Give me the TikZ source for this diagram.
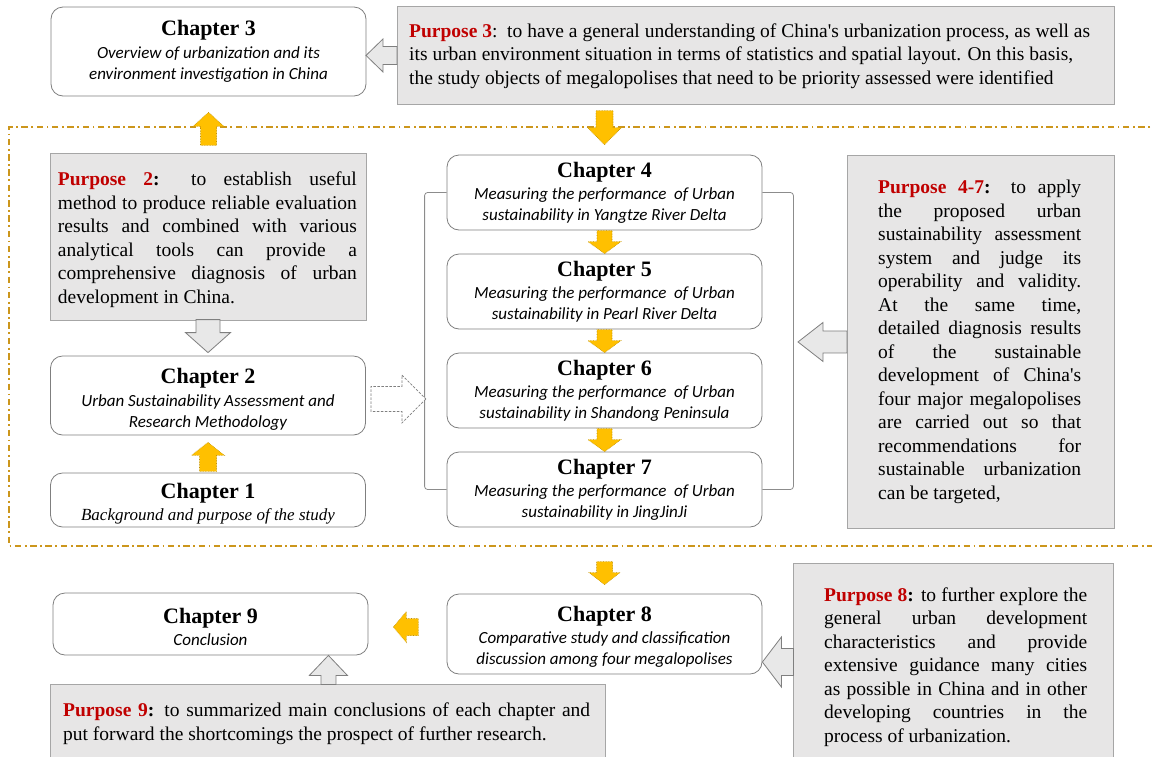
\documentclass[tikz,border=0pt]{standalone}
\usepackage{fontspec}
\setmainfont{Liberation Serif}
\newfontfamily\calibrifont{Carlito}
\usetikzlibrary{calc}

\definecolor{pfill}{HTML}{E7E6E6}
\definecolor{pline}{HTML}{A6A6A6}
\definecolor{cline}{HTML}{7F7F7F}
\definecolor{yfill}{HTML}{FFC000}
\definecolor{yline}{HTML}{BF9000}
\definecolor{pred}{HTML}{C00000}
\definecolor{frameline}{HTML}{CC961C}
\definecolor{afill}{HTML}{E8E8E8}
\definecolor{bline}{HTML}{8C8C8C}

% text helpers; the optional argument adds head room above a chapter title
\newcommand\ttl[2][0pt]{{\rmfamily\upshape\bfseries\fontsize{22}{24}\selectfont
  \rule{0pt}{\dimexpr15pt+#1\relax}#2}}
\newcommand\subf{\calibrifont\itshape\fontsize{17}{21}\selectfont}
\newcommand\ptxt{\fontsize{19.5}{23.5}\selectfont}
\newcommand\purp[1]{\textcolor{pred}{\bfseries #1}}
\newcommand\jl[2]{\hbox to #1pt{#2}}

\tikzset{
  chap/.style={draw=cline, fill=white, line width=0.8pt, rounded corners=12pt,
    minimum width=315pt, inner sep=0pt, align=center, font=\subf},
  pbox/.style={draw=pline, fill=pfill, line width=0.9pt, anchor=north west, inner sep=0pt},
  ptext/.style={anchor=north west, inner sep=0pt, align=left, font=\ptxt},
  yarrow/.style={fill=yfill, draw=yline, densely dotted, line width=0.6pt},
  garrow/.style={fill=afill, draw=cline, line width=0.8pt},
  darrow/.style={fill=white, draw=cline, dash pattern=on 2.5pt off 1.5pt, line width=0.8pt},
  frame/.style={draw=frameline, line width=1.5pt, dash pattern=on 6.5pt off 3.5pt on 1.8pt off 3.5pt},
  bracket/.style={draw=bline, line width=0.8pt, rounded corners=3pt},
  % block arrow: tip at the origin, pointing along +x
  % #1 total length, #2 head width, #3 shaft width, #4 head length
  pics/blockarrow/.style n args={4}{code={
    \path[pic actions] (0,0) -- (-#4,#2/2) -- (-#4,#3/2) -- (-#1,#3/2)
      -- (-#1,-#3/2) -- (-#4,-#3/2) -- (-#4,-#2/2) -- cycle;
  }}
}

\begin{document}
\begin{tikzpicture}[x=1pt, y=-1pt]
\clip (0,0) rectangle (1152,756);

% dash-dotted frame around the assessment chapters
\draw[frame] (1160,127) -- (9,127) -- (9,546) -- (1160,546);

% chapter boxes
\node[chap, minimum height=89pt] (ch3) at (208.5,51.5)
  {\ttl{Chapter 3}\\[1.5pt]Overview of urbanization and its\\environment investigation in China};
\node[chap, minimum height=79pt] (ch2) at (208,395.5)
  {\ttl[8pt]{Chapter 2}\\[1.5pt]Urban Sustainability Assessment and\\Research Methodology};
\node[chap, minimum height=54pt] (ch1) at (208,500)
  {\ttl[8pt]{Chapter 1}\\[1.5pt]{\rmfamily\itshape Background and purpose of the study}};
\node[chap, minimum height=75pt] (ch4) at (604.5,192.5)
  {\ttl{Chapter 4}\\[1pt]Measuring the performance\ \ of Urban\\sustainability in Yangtze River Delta};
\node[chap, minimum height=75pt] (ch5) at (604.5,291.5)
  {\ttl{Chapter 5}\\[1pt]Measuring the performance\ \ of Urban\\sustainability in Pearl River Delta};
\node[chap, minimum height=75pt] (ch6) at (604.5,390.5)
  {\ttl{Chapter 6}\\[1pt]Measuring the performance\ \ of Urban\\sustainability in Shandong Peninsula};
\node[chap, minimum height=75pt] (ch7) at (604.5,489.5)
  {\ttl{Chapter 7}\\[1pt]Measuring the performance\ \ of Urban\\sustainability in JingJinJi};
\node[chap, minimum height=80pt] (ch8) at (604.5,634)
  {\ttl[6pt]{Chapter 8}\\[1.5pt]Comparative study and classification\\discussion among four megalopolises};
\node[chap, minimum height=62pt] (ch9) at (210.5,624)
  {\ttl[6pt]{Chapter 9}\\[1.5pt]Conclusion};

% bracket grouping chapters 4 to 7
\draw[bracket] (ch4.west) -- ++(-22,0) |- (ch7.west);
\draw[bracket] (ch4.east) -- ++(31,0) |- (ch7.east);

% purpose boxes
\node[pbox, minimum width=717pt, minimum height=98pt] (p3) at (397,6) {};
\node[ptext] (t3) at ([shift={(12,17.4)}]p3.north west)
  {\purp{Purpose 3}:\ \ to have a general understanding of China\textquotesingle s urbanization process, as well as\\
   its urban environment situation in terms of statistics and spatial layout. On this basis,\\
   the study objects of megalopolises that need to be priority assessed were identified};

\node[pbox, minimum width=316pt, minimum height=167pt] (p2) at (50,153) {};
\node[ptext] (t2) at ([shift={(7.7,18.7)}]p2.north west)
  {\jl{299}{\purp{Purpose 2}\textbf{:} to establish useful}\\
   \jl{299}{method to produce reliable evaluation}\\
   \jl{299}{results and combined with various}\\
   \jl{299}{analytical tools can provide a}\\
   \jl{299}{comprehensive diagnosis of urban}\\
   development in China.};

\node[pbox, minimum width=267pt, minimum height=373pt] (p47) at (847,155) {};
\node[ptext] (t47) at ([shift={(31,25)}]p47.north west)
  {\jl{203}{\purp{Purpose 4-7}\textbf{:} to apply}\\
   \jl{203}{the proposed urban}\\
   \jl{203}{sustainability assessment}\\
   \jl{203}{system and judge its}\\
   \jl{203}{operability and validity.}\\
   \jl{203}{At the same time,}\\
   \jl{203}{detailed diagnosis results}\\
   \jl{203}{of the sustainable}\\
   \jl{203}{development of China\textquotesingle s}\\
   \jl{203}{four major megalopolises}\\
   \jl{203}{are carried out so that}\\
   \jl{203}{recommendations for}\\
   \jl{203}{sustainable urbanization}\\
   can be targeted,};

\node[pbox, minimum width=320pt, minimum height=210pt] (p8) at (793,563) {};
\node[ptext] (t8) at ([shift={(31,24.4)}]p8.north west)
  {\jl{263}{\purp{Purpose 8}\textbf{:} to further explore the}\\
   \jl{263}{general urban development}\\
   \jl{263}{characteristics and provide}\\
   \jl{263}{extensive guidance many cities}\\
   \jl{263}{as possible in China and in other}\\
   \jl{263}{developing countries in the}\\
   process of urbanization.};

\node[pbox, minimum width=555pt, minimum height=90pt] (p9) at (50,684) {};
\node[ptext] (t9) at ([shift={(13,18.7)}]p9.north west)
  {\jl{527}{\purp{Purpose 9}\textbf{:} to summarized main conclusions of each chapter and}\\
   put forward the shortcomings the prospect of further research.};

% flow arrows
\pic[yarrow, rotate=90]  at ($(ch3.south)+(0,16)$)  {blockarrow={33}{31}{16}{14}};
\pic[yarrow, rotate=-90] at ($(ch4.north)+(0,-10)$) {blockarrow={34}{34}{17}{17}};
\pic[garrow, rotate=180] at ($(p3.west)+(-31,0)$)   {blockarrow={31}{33}{18}{17}};
\pic[garrow, rotate=-90] at ($(ch2.north)+(0,-3)$)  {blockarrow={33}{45}{24}{20}};
\pic[yarrow, rotate=90]  at ($(ch2.south)+(0,7)$)   {blockarrow={29}{33}{17}{13}};
\pic[darrow]             at ($(ch2.east)+(60,3.5)$) {blockarrow={55}{48}{25}{24}};
\pic[yarrow, rotate=-90] at (ch5.north) {blockarrow={23}{33}{15}{12}};
\pic[yarrow, rotate=-90] at (ch6.north) {blockarrow={23}{33}{15}{12}};
\pic[yarrow, rotate=-90] at (ch7.north) {blockarrow={23}{33}{15}{12}};
\pic[garrow, rotate=180] at ($(p47.west)+(-49,0)$)  {blockarrow={49}{39}{22}{25}};
\pic[yarrow, rotate=-90] at ($(ch8.north)+(0,-9)$)  {blockarrow={23}{31}{16}{12}};
\pic[yarrow, rotate=180] at ($(ch9.east)+(25,3)$)   {blockarrow={25}{31}{17}{13}};
\pic[garrow, rotate=180] at ($(ch8.east)+(0,28)$)   {blockarrow={31}{50}{27}{19}};
\pic[garrow, rotate=90]  at ($(ch9.south east)+(-40,0)$) {blockarrow={29}{38}{15}{20}};
\end{tikzpicture}
\end{document}
